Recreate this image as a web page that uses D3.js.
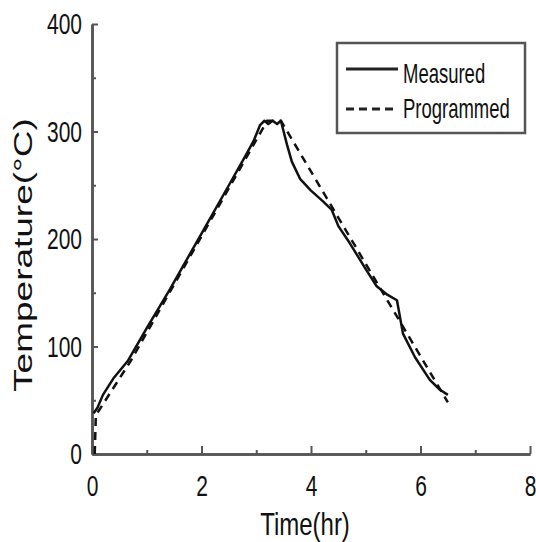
<!DOCTYPE html>
<html><head><meta charset="utf-8">
<script src="https://cdn.jsdelivr.net/npm/d3@7"></script>
<style>body{margin:0;background:#fff}svg{display:block}text{font-family:"Liberation Sans",Arial,sans-serif;fill:#111}</style>
</head><body><div id="c"></div>
<script>
const measuredT = [0.03,0.1,0.2,0.4,0.66,1.0,1.42,2.0,2.5,2.8,2.95,3.07,3.15,3.22,3.3,3.38,3.45,3.5,3.56,3.65,3.8,4.0,4.22,4.38,4.5,4.71,5.0,5.2,5.4,5.57,5.68,5.9,6.17,6.35,6.5];
const measuredV = [38,43,55,71,87,117,153,205,250,277,291,306,310,307,310,307,310,300,288,272,256,245,235,227,212,196,172,156,148,143,112,90,69,60,55];
const programmedT = [0.05,0.07,0.7,3.2,3.45,6.5];
const programmedV = [0,36,86,310,310,48];
const xMajor = [0,2,4,6,8], xMinor = [1,3,5,7];
const yMajor = [0,100,200,300,400], yMinor = [50,150,250,350];
const seriesNames = ["Measured","Programmed"];

const W=536,H=542;
const svg=d3.select("#c").append("svg").attr("width",W).attr("height",H);
const x=d3.scaleLinear().domain([0,8]).range([92,530]);
const y=d3.scaleLinear().domain([0,400]).range([454,24]);
const axisCol="#555";
const SX=0.7;

function styleAxis(g){
  g.select(".domain").attr("stroke",axisCol).attr("stroke-width",2.5);
  g.selectAll(".tick line").attr("stroke",axisCol).attr("stroke-width",2);
}
// minor ticks
const gxm=svg.append("g").attr("transform",`translate(0,${y(0)})`)
  .call(d3.axisBottom(x).tickValues(xMinor).tickSizeInner(-4).tickSizeOuter(0).tickFormat(""));
styleAxis(gxm);
const gym=svg.append("g").attr("transform",`translate(${x(0)},0)`)
  .call(d3.axisLeft(y).tickValues(yMinor).tickSizeInner(-4).tickSizeOuter(0).tickFormat(""));
styleAxis(gym);
// major
const gx=svg.append("g").attr("transform",`translate(0,${y(0)})`)
  .call(d3.axisBottom(x).tickValues(xMajor).tickSizeInner(-8).tickSizeOuter(0).tickPadding(21).tickFormat(d3.format("d")));
styleAxis(gx);
gx.selectAll(".tick text").attr("font-size",30).attr("fill","#111").attr("transform",`scale(${SX},1)`).attr("font-family","Liberation Sans, Arial, sans-serif");
const gy=svg.append("g").attr("transform",`translate(${x(0)},0)`)
  .call(d3.axisLeft(y).tickValues(yMajor).tickSizeInner(-6).tickSizeOuter(0).tickPadding(10).tickFormat(d3.format("d")));
styleAxis(gy);
gy.selectAll(".tick text").attr("font-size",30).attr("fill","#111").attr("x",-10/SX).attr("transform",`scale(${SX},1)`).attr("font-family","Liberation Sans, Arial, sans-serif");

// titles
svg.append("text").attr("transform",`translate(305,535) scale(0.75,1)`).attr("text-anchor","middle")
  .attr("font-size",32).text("Time(hr)");
svg.append("text").attr("transform",`translate(32,255) scale(${SX},1) rotate(-90)`).attr("text-anchor","middle")
  .attr("font-size",37).text("Temperature(°C)");

// lines
const line=d3.line().x(d=>x(d[0])).y(d=>y(d[1]));
const prog=programmedT.map((t,i)=>[t,programmedV[i]]);
const meas=measuredT.map((t,i)=>[t,measuredV[i]]);
svg.append("path").datum(prog).attr("d",line).attr("fill","none").attr("stroke","#111").attr("stroke-width",2.5).attr("stroke-dasharray","8,6");
svg.append("path").datum(meas).attr("d",line).attr("fill","none").attr("stroke","#111").attr("stroke-width",2.5).attr("stroke-linejoin","round");

// legend
const lg=svg.append("g");
lg.append("rect").attr("x",337).attr("y",43).attr("width",188).attr("height",90).attr("fill","#fff").attr("stroke","#555").attr("stroke-width",2.5);
lg.append("line").attr("x1",346).attr("x2",398).attr("y1",69).attr("y2",69).attr("stroke","#222").attr("stroke-width",3);
lg.append("line").attr("x1",346).attr("x2",394).attr("y1",109).attr("y2",109).attr("stroke","#222").attr("stroke-width",3).attr("stroke-dasharray","8,5");
lg.append("text").attr("transform","translate(403,83) scale(0.66,1)").attr("font-size",28).text(seriesNames[0]);
lg.append("text").attr("transform","translate(403,118) scale(0.66,1)").attr("font-size",28).text(seriesNames[1]);
</script></body></html>
